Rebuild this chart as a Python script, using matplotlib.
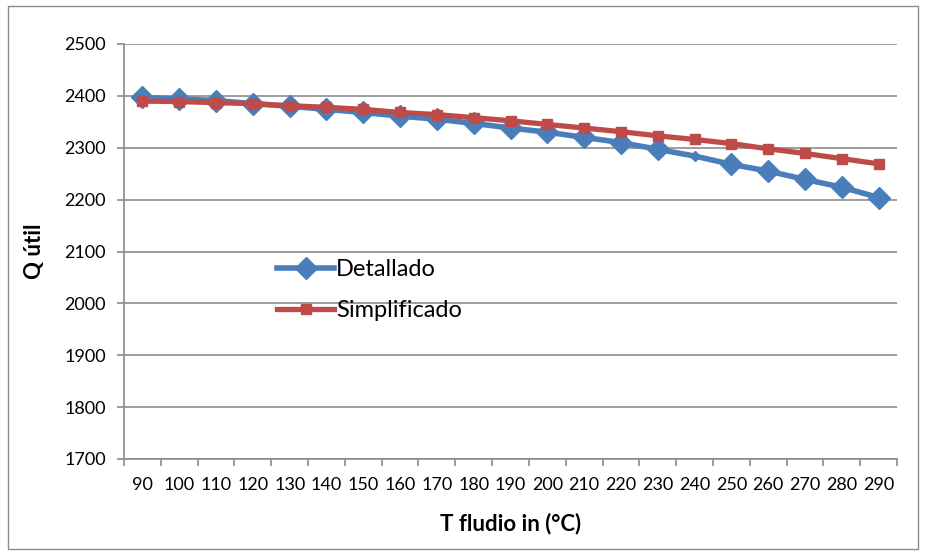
import matplotlib
matplotlib.use("Agg")
import matplotlib.pyplot as plt
from matplotlib.patches import Rectangle
import numpy as np

plt.rcParams['font.family'] = ['Lato', 'DejaVu Sans']

temperatures = [90, 100, 110, 120, 130, 140, 150, 160, 170, 180, 190,
                200, 210, 220, 230, 240, 250, 260, 270, 280, 290]
detallado = [2397, 2394, 2391, 2385, 2380, 2374, 2368, 2361, 2355, 2347, 2338,
             2330, 2320, 2310, 2297, 2284, 2268, 2255, 2239, 2224, 2204]
simplificado = [2390, 2389, 2387, 2385, 2381, 2378, 2374, 2368, 2364, 2358, 2352,
                2345, 2338, 2331, 2323, 2316, 2308, 2298, 2289, 2279, 2269]
y_ticks = [1700, 1800, 1900, 2000, 2100, 2200, 2300, 2400, 2500]

blue = '#4A7EBB'
red = '#BE4B48'
grid_grey = '#8C8C8C'

fig = plt.figure(figsize=(9.27, 5.58), dpi=100)
fig.patches.append(Rectangle((8 / 927, 1 - 549 / 558), 910 / 927, 543 / 558,
                             transform=fig.transFigure, fill=False,
                             edgecolor='#8C8C8C', linewidth=1.0))

ax = fig.add_axes([124 / 927, 1 - 459 / 558, 773 / 927, 415 / 558])

x = np.arange(len(temperatures))
small_idx = temperatures.index(240)
full_marks = [i for i in range(len(x)) if i != small_idx]

ax.plot(x, detallado, color=blue, linewidth=4.0, marker='D', markersize=11,
        markevery=full_marks, label='Detallado', zorder=3)
ax.plot([x[small_idx]], [detallado[small_idx]], color=blue, marker='D',
        markersize=5, linestyle='none', zorder=3)
ax.plot(x, simplificado, color=red, linewidth=3.8, marker='s', markersize=7,
        label='Simplificado', zorder=4)

ax.set_xlim(-0.5, len(x) - 0.5)
ax.set_ylim(1700, 2500)
ax.set_yticks(y_ticks)
ax.yaxis.grid(True, color=grid_grey, linewidth=1.2)
ax.set_axisbelow(True)

ax.set_xticks(x)
ax.set_xticklabels([str(t) for t in temperatures])
ax.set_xticks(np.arange(-0.5, len(x), 1.0), minor=True)
ax.tick_params(axis='x', which='major', length=0, pad=13, labelsize=13)
ax.tick_params(axis='x', which='minor', length=5, color=grid_grey, width=1.2)
ax.tick_params(axis='y', which='major', length=5, color=grid_grey, width=1.2,
               labelsize=13, pad=8)

for side in ('top', 'right'):
    ax.spines[side].set_visible(False)
for side in ('left', 'bottom'):
    ax.spines[side].set_color(grid_grey)
    ax.spines[side].set_linewidth(1.2)

ax.set_xlabel('T fludio in (°C)', fontsize=16, fontweight='bold', labelpad=14)
ax.set_ylabel('Q útil', fontsize=16, fontweight='bold', labelpad=14)

ax.legend(loc='center left', bbox_to_anchor=(0.186, 0.407), frameon=False,
          fontsize=17, handlelength=2.4, handletextpad=0.1, labelspacing=0.85,
          borderaxespad=0)

fig.savefig('out.png', dpi=100)
